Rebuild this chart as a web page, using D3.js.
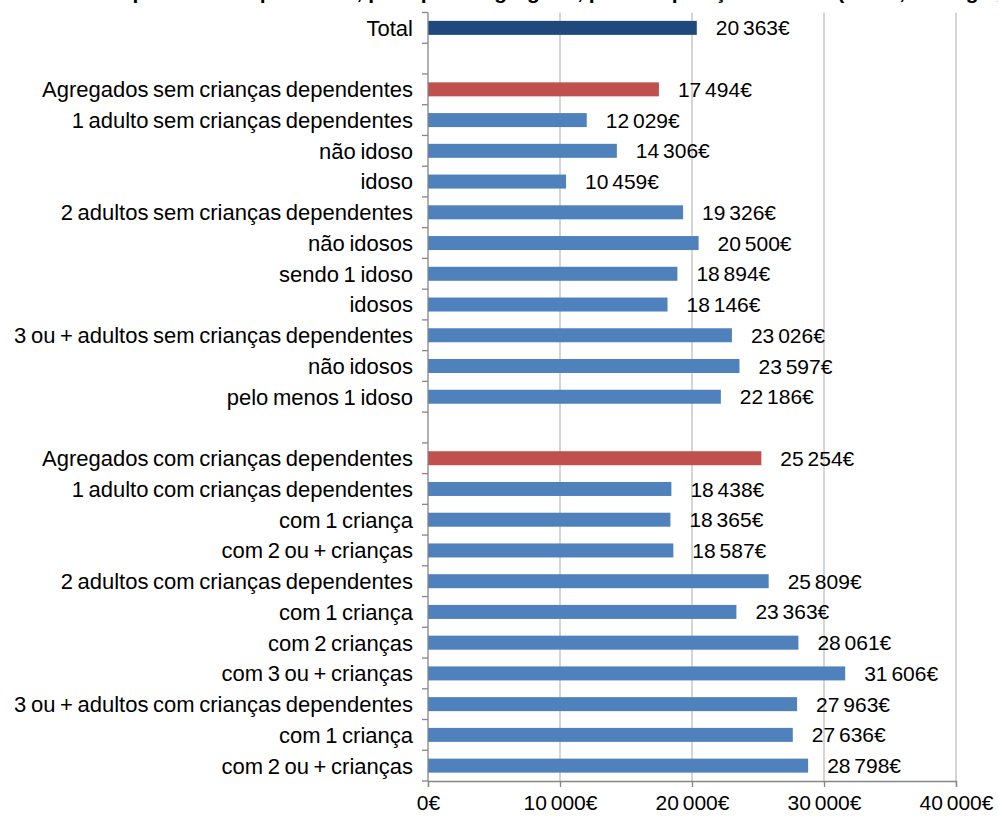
<!DOCTYPE html>
<html>
<head>
<meta charset="utf-8">
<script src="https://cdn.jsdelivr.net/npm/d3@7"></script>
<style>
  html, body { margin: 0; padding: 0; background: #fff; }
  svg { display: block; }
  text { font-family: "Liberation Sans", Arial, sans-serif; fill: #000; }
</style>
</head>
<body>
<svg id="chart" width="998" height="816"></svg>
<script>
// ---- data ----
const categories = [
  "Total",
  "",
  "Agregados sem crianças dependentes",
  "1 adulto sem crianças dependentes",
  "não idoso",
  "idoso",
  "2 adultos sem crianças dependentes",
  "não idosos",
  "sendo 1 idoso",
  "idosos",
  "3 ou + adultos sem crianças dependentes",
  "não idosos",
  "pelo menos 1 idoso",
  "",
  "Agregados com crianças dependentes",
  "1 adulto com crianças dependentes",
  "com 1 criança",
  "com 2 ou + crianças",
  "2 adultos com crianças dependentes",
  "com 1 criança",
  "com 2 crianças",
  "com 3 ou + crianças",
  "3 ou + adultos com crianças dependentes",
  "com 1 criança",
  "com 2 ou + crianças"
];
const values = [
  20363, null,
  17494, 12029, 14306, 10459, 19326, 20500, 18894, 18146, 23026, 23597, 22186,
  null,
  25254, 18438, 18365, 18587, 25809, 23363, 28061, 31606, 27963, 27636, 28798
];
const groups = [
  "total", "",
  "sub", "item", "item", "item", "item", "item", "item", "item", "item", "item", "item",
  "",
  "sub", "item", "item", "item", "item", "item", "item", "item", "item", "item", "item"
];
const xTicks = [0, 10000, 20000, 30000, 40000];
const titleText = "Rendimento médio por adulto equivalente, por tipo de agregado, por composição familiar (€/ano, Portugal, 2011)";

// ---- layout ----
const svg = d3.select("#chart");
const margin = { left: 428, right: 42, top: 12.5, bottom: 35 };
const W = 998, H = 816;
const plotW = W - margin.left - margin.right; // 528
const plotH = H - margin.top - margin.bottom;

const colors = { total: "#1F497D", sub: "#C0504D", item: "#4F81BD" };

const x = d3.scaleLinear().domain([0, 40000]).range([margin.left, margin.left + plotW]);
const y = d3.scaleBand().domain(d3.range(categories.length))
  .range([margin.top, margin.top + plotH]).paddingInner(0).paddingOuter(0);

const fmt = v => d3.format(",")(v).replace(/,/g, " ") + "€";

// title (cut off at top as in the reference)
svg.append("text")
  .attr("x", W / 2).attr("y", -1)
  .attr("text-anchor", "middle")
  .style("font-size", "21px").style("font-weight", "bold")
  .text(titleText);

// gridlines
svg.append("g").selectAll("line")
  .data(xTicks.filter(d => d > 0))
  .join("line")
  .attr("x1", d => x(d)).attr("x2", d => x(d))
  .attr("y1", margin.top).attr("y2", margin.top + plotH)
  .attr("stroke", "#BFBFBF").attr("stroke-width", 1.3);

// bars
const bw = 14;
svg.append("g").selectAll("rect")
  .data(values.map((v, i) => ({ v, i })).filter(d => d.v != null))
  .join("rect")
  .attr("x", x(0))
  .attr("y", d => y(d.i) + y.bandwidth() / 2 - bw / 2)
  .attr("width", d => x(d.v) - x(0))
  .attr("height", bw)
  .attr("fill", d => colors[groups[d.i]]);

// value labels
svg.append("g").selectAll("text")
  .data(values.map((v, i) => ({ v, i })).filter(d => d.v != null))
  .join("text")
  .attr("x", d => x(d.v) + 19)
  .attr("y", d => y(d.i) + y.bandwidth() / 2)
  .attr("dy", "0.36em")
  .style("font-size", "21px")
  .style("word-spacing", "-2px")
  .text(d => fmt(d.v));

// category labels
svg.append("g").selectAll("text")
  .data(categories.map((c, i) => ({ c, i })).filter(d => d.c !== ""))
  .join("text")
  .attr("x", margin.left - 15)
  .attr("y", d => y(d.i) + y.bandwidth() / 2)
  .attr("dy", "0.36em")
  .attr("text-anchor", "end")
  .style("font-size", "22px")
  .style("word-spacing", "-1.5px")
  .text(d => d.c);

// left axis line + ticks at band boundaries
const axisColor = "#868686";
svg.append("line")
  .attr("x1", x(0)).attr("x2", x(0))
  .attr("y1", margin.top).attr("y2", margin.top + plotH)
  .attr("stroke", axisColor).attr("stroke-width", 1.3);
svg.append("g").selectAll("line")
  .data(d3.range(categories.length + 1))
  .join("line")
  .attr("x1", x(0) - 6).attr("x2", x(0))
  .attr("y1", d => margin.top + d * y.step())
  .attr("y2", d => margin.top + d * y.step())
  .attr("stroke", axisColor).attr("stroke-width", 1.3);

// bottom axis
const gx = svg.append("g")
  .attr("transform", `translate(0,${margin.top + plotH})`)
  .call(d3.axisBottom(x).tickValues(xTicks).tickFormat(fmt).tickSize(6).tickPadding(8));
gx.select(".domain").attr("stroke", axisColor).attr("stroke-width", 1.3);
gx.selectAll(".tick line").attr("stroke", axisColor).attr("stroke-width", 1.3);
gx.selectAll(".tick text")
  .style("font-size", "21px")
  .style("word-spacing", "-2px")
  .style("font-family", '"Liberation Sans", Arial, sans-serif')
  .attr("fill", "#000");
</script>
</body>
</html>
